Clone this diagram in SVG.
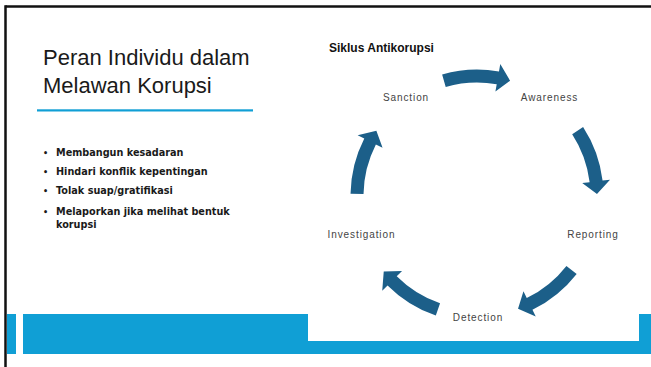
<svg xmlns="http://www.w3.org/2000/svg" xmlns:xlink="http://www.w3.org/1999/xlink" width="651" height="367" viewBox="0 0 651 367">
<style>
.title{font-family:"Liberation Sans",Arial,sans-serif;font-size:22px;fill:#1a1a1a}
.bul{font-family:"DejaVu Sans",sans-serif;font-weight:bold;font-size:9.7px;fill:#1a1a1a}
.dot{font-family:"DejaVu Sans",sans-serif;font-weight:bold;font-size:8px;fill:#1a1a1a}
.head{font-family:"Liberation Sans",Arial,sans-serif;font-weight:bold;font-size:12px;fill:#111}
.lbl{font-family:"Liberation Sans",Arial,sans-serif;font-size:10px;letter-spacing:0.9px;fill:#444;text-anchor:middle}
.band{fill:#109fd5}
.arr{fill:#1c5f89}
</style>
<defs>
<path id="arrow" d="M126.5,0 A126.5,126.5 0 0 1 113.7,55.46 L120.44,58.75 L101.76,63.59 L95.27,46.47 L102.01,49.76 A113.5,113.5 0 0 0 113.5,0 Z"/>
</defs>
<rect x="0" y="0" width="651" height="367" fill="#ffffff"/>
<g id="frame">
<line x1="5.5" y1="6.5" x2="651" y2="6.5" stroke="#111" stroke-width="2.5"/>
<line x1="5.5" y1="5.3" x2="5.5" y2="367" stroke="#111" stroke-width="2.5"/>
<rect class="band" x="7" y="314" width="9" height="40"/>
<rect class="band" x="23" y="314" width="628" height="40"/>
<rect x="308" y="300" width="331" height="41" fill="#ffffff"/>
</g>
<g id="title">
<text class="title" x="43" y="65">Peran Individu dalam</text>
<text class="title" x="43" y="93">Melawan Korupsi</text>
<rect x="37" y="109.3" width="216" height="2.2" fill="#109fd5"/>
</g>
<g id="bullets">
<text class="dot" x="43" y="155.5">•</text><text class="bul" x="56" y="155.5">Membangun kesadaran</text>
<text class="dot" x="43" y="175">•</text><text class="bul" x="56" y="175">Hindari konflik kepentingan</text>
<text class="dot" x="43" y="194">•</text><text class="bul" x="56" y="194">Tolak suap/gratifikasi</text>
<text class="dot" x="43" y="215">•</text><text class="bul" x="56" y="215">Melaporkan jika melihat bentuk</text>
<text class="bul" x="56" y="228">korupsi</text>
</g>
<g id="heading"><text class="head" x="329" y="51.5">Siklus Antikorupsi</text></g>
<g id="connectors">
<use xlink:href="#arrow" class="arr" transform="translate(477,196) rotate(-106)"/>
<use xlink:href="#arrow" class="arr" transform="translate(477,196) rotate(-33)"/>
<use xlink:href="#arrow" class="arr" transform="translate(477,196) rotate(38)"/>
<use xlink:href="#arrow" class="arr" transform="translate(477,196) rotate(109)"/>
<use xlink:href="#arrow" class="arr" transform="translate(477,196) rotate(181)"/>
</g>
<g id="sanction"><text class="lbl" x="406" y="101">Sanction</text></g>
<g id="awareness"><text class="lbl" x="549.5" y="101">Awareness</text></g>
<g id="reporting"><text class="lbl" x="593" y="238">Reporting</text></g>
<g id="detection"><text class="lbl" x="478" y="321">Detection</text></g>
<g id="investigation"><text class="lbl" x="361.5" y="238">Investigation</text></g>
</svg>
